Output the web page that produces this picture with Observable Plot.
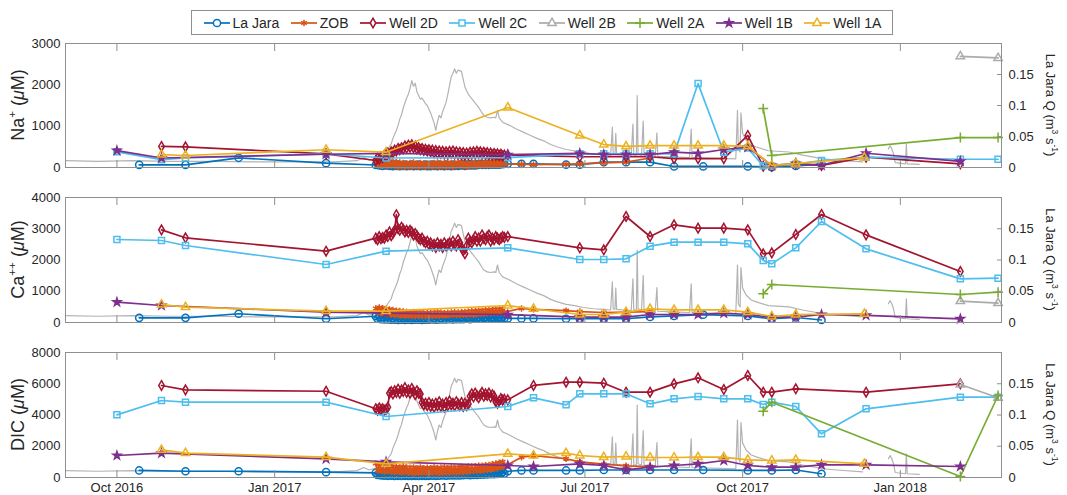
<!DOCTYPE html>
<html><head><meta charset="utf-8">
<script src="https://cdn.jsdelivr.net/npm/d3@7"></script>
<script src="https://cdn.jsdelivr.net/npm/@observablehq/plot@0.6"></script>
<style>
body{margin:0;background:#fff;font-family:"Liberation Sans",Arial,Helvetica,sans-serif;}
#wrap{position:relative;width:1067px;height:495px;overflow:hidden;background:#fff;}
.panel{position:absolute;left:0;}
#legend{position:absolute;left:191px;top:10px;width:702px;height:25px;border:1px solid #8f8f8f;background:#fff;display:flex;align-items:center;justify-content:space-evenly;font-size:14px;color:#262626;box-sizing:border-box;z-index:5;}
.item{display:flex;align-items:center;gap:2px;white-space:nowrap;}
</style></head><body><div id="wrap"><div id="legend"></div></div>
<script>
// ---------- x ticks ----------
const xTickDates = ["2016-10-01","2017-01-01","2017-04-01","2017-07-01","2017-10-01","2018-01-01"];
const qTicks = [0, 0.05, 0.1, 0.15];
const qTickLabels = ["0", "0.05", "0.1", "0.15"];

// ---------- La Jara Q (right axis, m3/s) ----------
const qDates1 = ["2016-09-01","2016-09-20","2016-10-10","2016-11-01","2016-11-25","2016-12-20","2017-01-15","2017-02-05","2017-02-18","2017-02-22","2017-02-25","2017-03-01","2017-03-04","2017-03-06","2017-03-08","2017-03-10","2017-03-11","2017-03-13","2017-03-14","2017-03-15","2017-03-16","2017-03-17","2017-03-18","2017-03-19","2017-03-20","2017-03-21","2017-03-22","2017-03-23","2017-03-24","2017-03-25","2017-03-26","2017-03-27","2017-03-28","2017-03-30","2017-03-31","2017-04-02","2017-04-03","2017-04-04","2017-04-05","2017-04-06","2017-04-07","2017-04-08","2017-04-09","2017-04-11","2017-04-12","2017-04-13","2017-04-14","2017-04-15","2017-04-16","2017-04-17","2017-04-18","2017-04-20","2017-04-21","2017-04-22","2017-04-24","2017-04-26","2017-04-28","2017-04-30","2017-05-02","2017-05-03","2017-05-05","2017-05-07","2017-05-09","2017-05-10","2017-05-11","2017-05-12","2017-05-14","2017-05-18","2017-05-22","2017-05-26","2017-05-30","2017-06-03","2017-06-07","2017-06-11","2017-06-15","2017-06-20","2017-06-25","2017-06-30","2017-07-06","2017-07-12","2017-07-16","2017-07-17","2017-07-17T12:00Z","2017-07-18T12:00Z","2017-07-19","2017-07-19T12:00Z","2017-07-24","2017-07-28","2017-07-29","2017-07-29T12:00Z","2017-07-31","2017-07-31T12:00Z","2017-08-01","2017-08-03","2017-08-04","2017-08-04T12:00Z","2017-08-11","2017-08-12","2017-08-12T12:00Z","2017-08-20","2017-08-31","2017-09-01","2017-09-01T12:00Z","2017-09-12","2017-09-27","2017-09-28","2017-09-28T12:00Z","2017-09-29T12:00Z","2017-09-30","2017-10-01","2017-10-03","2017-10-06","2017-10-09","2017-10-16","2017-10-28","2017-11-05","2017-11-17","2017-11-25","2017-12-10"];
const q1 = [0.011,0.010,0.011,0.010,0.010,0.009,0.009,0.009,0.011,0.016,0.012,0.015,0.013,0.020,0.030,0.038,0.047,0.060,0.068,0.078,0.085,0.096,0.104,0.112,0.118,0.128,0.140,0.131,0.136,0.122,0.116,0.110,0.112,0.103,0.100,0.088,0.080,0.072,0.060,0.074,0.084,0.080,0.090,0.105,0.118,0.132,0.146,0.152,0.159,0.152,0.157,0.155,0.142,0.130,0.118,0.111,0.104,0.097,0.088,0.084,0.081,0.080,0.081,0.080,0.092,0.080,0.073,0.068,0.062,0.057,0.052,0.047,0.043,0.037,0.033,0.029,0.027,0.024,0.022,0.021,0.020,0.065,0.022,0.021,0.055,0.021,0.020,0.019,0.070,0.020,0.020,0.116,0.022,0.020,0.075,0.020,0.018,0.056,0.018,0.017,0.016,0.062,0.016,0.015,0.014,0.092,0.030,0.025,0.088,0.055,0.044,0.036,0.033,0.027,0.025,0.020,0.014,0.012,0.009];
const qDates2 = ["2017-12-25","2017-12-26","2017-12-27","2017-12-28","2017-12-29","2018-01-04","2018-01-04T12:00Z","2018-01-05","2018-01-12"];
const q2 = [0.030,0.035,0.030,0.022,0.008,0.006,0.038,0.006,0.005];

// ---------- dense (daily) sampling period, spring 2017 ----------
const denseDates = [
"2017-03-01","2017-03-02","2017-03-03","2017-03-04","2017-03-05","2017-03-06","2017-03-07","2017-03-08","2017-03-09","2017-03-10",
"2017-03-11","2017-03-12","2017-03-13","2017-03-14","2017-03-15","2017-03-16","2017-03-17","2017-03-18","2017-03-19","2017-03-20",
"2017-03-21","2017-03-22","2017-03-23","2017-03-24","2017-03-25","2017-03-26","2017-03-27","2017-03-28","2017-03-29","2017-03-30","2017-03-31",
"2017-04-01","2017-04-02","2017-04-03","2017-04-04","2017-04-05","2017-04-06","2017-04-07","2017-04-08","2017-04-09","2017-04-10",
"2017-04-11","2017-04-12","2017-04-13","2017-04-14","2017-04-15","2017-04-16","2017-04-17","2017-04-18","2017-04-19","2017-04-20",
"2017-04-21","2017-04-22","2017-04-23","2017-04-24","2017-04-25","2017-04-26","2017-04-27","2017-04-28","2017-04-29","2017-04-30",
"2017-05-01","2017-05-02","2017-05-03","2017-05-04","2017-05-05","2017-05-06","2017-05-07","2017-05-08","2017-05-09","2017-05-10",
"2017-05-11","2017-05-12","2017-05-13","2017-05-14","2017-05-15"];

// ---------- La Jara ----------
const laJaraPreDates = ["2016-10-14","2016-11-10","2016-12-11","2017-01-31"];
const laJaraPostDates = ["2017-05-17","2017-05-25","2017-06-01","2017-06-20","2017-06-28","2017-07-12","2017-07-25","2017-08-08","2017-08-22","2017-09-08","2017-10-04","2017-10-18","2017-11-01","2017-11-16"];
const laJaraNaPre = [65,65,235,105];
const laJaraNaDense = [60,100,50,90,40,80,50,90,40,70, 30,80,40,70,30,60,40,70,30,60, 40,70,30,60,40,70,30,60,40,70,30, 60,30,70,40,60,30,70,40,60,30, 70,40,60,30,70,40,60,40,70,50, 80,40,70,50,80,50,70,50,80,60, 90,60,80,60,90,60,80,70,90,70, 90,70,90,80,90];
const laJaraNaPost = [90,90,90,70,70,130,130,130,25,25,25,10,40,80];
const laJaraCaPre = [150,150,280,120];
const laJaraCaDense = [200,120,190,110,180,100,170,100,160,90, 150,90,160,80,150,90,140,80,150,90, 140,80,150,90,140,90,150,80,140,90,150, 90,160,100,150,90,160,100,150,100,160, 100,170,110,160,100,170,110,180,110,170, 110,180,120,170,110,180,120,190,120,180, 120,190,130,180,120,190,130,180,130,190, 130,180,130,190,140];
const laJaraCaPost = [130,130,130,120,120,120,120,180,210,250,210,120,160,80];
const laJaraDicPre = [450,400,400,340];
const laJaraDicDense = [300,160,280,140,270,120,260,110,250,120, 240,100,230,110,240,100,230,110,220,100, 230,100,220,110,240,100,230,110,220,100,230, 110,240,120,230,110,240,120,250,130,240, 120,250,130,260,140,250,130,260,140,270, 150,270,160,280,150,290,160,300,170,290, 180,300,190,310,200,320,210,320,220,330, 230,340,240,350,250];
const laJaraDicPost = [400,450,450,450,450,480,480,480,480,480,450,450,480,240];

// ---------- ZOB ----------
const zobPostDates = ["2017-05-25","2017-06-01","2017-06-20","2017-06-28","2017-07-12","2017-07-25","2017-08-08"];
const zobNaDense = [160,60,180,40,200,50,170,30,150,40, 140,30,130,20,120,30,110,20,100,30, 110,20,120,30,100,20,110,30,100,20,90, 30,100,20,110,30,120,20,100,30,110, 20,120,30,100,20,110,30,120,40,130, 30,110,20,100,30,110,40,120,30,110, 40,120,50,130,40,120,50,140,60,130, 60,140,70,130,80];
const zobNaPost = [80,70,80,90,110,130,230];
const zobCaDense = [450,320,480,300,460,280,430,260,420,250, 400,240,380,230,370,220,350,210,340,220, 330,210,340,200,320,210,330,200,310,200,300, 210,310,200,320,220,330,210,320,220,300, 220,310,230,320,240,330,230,320,240,330, 250,340,240,350,260,360,250,370,260,380, 270,380,280,390,290,400,300,410,300,420, 310,420,320,430,330];
const zobCaPost = [450,420,380,350,320,330,350];
const zobDicDense = [900,450,850,400,800,350,780,400,750,350, 700,320,680,350,650,300,700,350,650,300, 620,280,650,300,600,280,650,320,600,300,620, 280,600,300,650,320,600,280,620,300,650, 320,600,300,650,330,620,300,650,350,680, 330,650,350,700,380,700,400,720,420,750, 430,760,450,780,480,800,500,850,550,900, 600,950,650,1000,700];
const zobDicPost = [1300,1400,1200,1000,850,750,700];

// ---------- Well 2D ----------
const w2dPreDates = ["2016-10-27","2016-11-10","2017-01-31"];
const w2dPostDates = ["2017-05-17","2017-06-01","2017-06-20","2017-06-28","2017-07-12","2017-07-25","2017-08-08","2017-08-22","2017-09-05","2017-09-20","2017-10-04","2017-10-13","2017-10-18","2017-11-01","2017-11-16","2017-12-12","2018-02-05"];
const w2dNaPre = [510,500,330];
const w2dNaDense = [170,230,200,260,240,300,280,350,320,380, 360,420,400,460,430,480,450,520,470,540, 490,550,480,520,450,480,430,460,410,440,400, 430,380,420,360,410,350,400,340,390,330, 380,330,390,340,400,330,380,320,370,310, 360,300,350,310,370,320,380,330,390,340, 380,330,370,320,360,310,350,300,340,300, 330,290,320,280,300];
const w2dNaPost = [300,null,null,260,260,260,260,215,215,215,775,30,30,95,50,250,90];
const w2dCaPre = [2965,2710,2282];
const w2dCaDense = [2700,2650,2750,2680,2720,2700,2800,2750,2900,2780, 2850,2950,3450,3000,2950,3050,2980,2900,2950,2880, 2950,2900,2800,2850,2780,2700,2650,2700,2600,2550,2600, 2500,2550,2450,2500,2400,2550,2450,2500,2400,2550, 2450,2500,2550,2450,2600,2500,2450,2650,2550,2400, 2300,2200,2450,2700,2600,2550,2650,2750,2600,2700, 2600,2800,2700,2650,2750,2800,2600,2700,2650,2750, 2700,2650,2700,2750,2720];
const w2dCaPost = [2750,null,null,2390,2326,3392,2752,3126,3019,3019,2965,2197,2229,2816,3456,2805,1632];
const w2dDicPre = [5890,5610,5520];
const w2dDicDense = [4400,4300,4450,4350,4400,4300,4350,4500,5400,5500, 5350,5550,5450,5650,5400,5600,5500,5750,5450,5600, 5400,5700,5500,5300,5550,5400,5350,4800,4650,4750,4600, 4800,4550,4700,4500,4750,4600,4850,4550,4700,4500, 4800,4600,4900,4650,4750,4600,4850,4700,4600,4800, 4550,4750,4600,4700,5200,5350,5150,5400,5250,5100, 5300,5450,5200,5350,5250,5400,5150,5300,5200,4850, 4750,4900,5050,4950,5000];
const w2dDicPost = [4970,5890,6100,6100,6037,5461,5461,5995,6379,5632,6528,5461,5461,5675,null,5461,5995];

// ---------- Well 2C ----------
const w2cDates = ["2016-10-01","2016-10-27","2016-11-10","2017-01-31","2017-03-07","2017-05-17","2017-06-01","2017-06-20","2017-06-28","2017-07-12","2017-07-25","2017-08-08","2017-08-22","2017-09-05","2017-09-20","2017-10-04","2017-10-13","2017-10-18","2017-11-01","2017-11-16","2017-12-12","2018-02-05","2018-02-27"];
const w2cNa = [380,190,230,330,230,240,null,null,330,330,330,330,330,2030,370,470,40,30,80,170,250,200,200];
const w2cCa = [2656,2624,2464,1856,2282,2390,null,null,2016,2016,2037,2443,2571,2571,2571,2517,1984,1877,2389,3232,2357,1397,1418];
const w2cDic = [4011,4928,4821,4821,3904,4544,5099,4651,5355,5355,5355,4715,5035,5184,5035,5035,4672,4821,4544,2795,4395,5141,5141];

// ---------- Well 2B ----------
const w2bDates = ["2018-02-05","2018-02-27"];
const w2bNa = [2690,2650];
const w2bCa = [682,618];
const w2bDic = [5950,5100];

// ---------- Well 2A ----------
const w2aDates = ["2017-10-13","2017-10-18","2018-02-05","2018-02-27"];
const w2aNa = [1425,290,725,725];
const w2aCa = [917,1216,896,970];
const w2aDic = [4245,4821,64,5248];

// ---------- Well 1B ----------
const w1bDates = ["2016-10-01","2016-10-27","2017-01-31","2017-03-07","2017-05-17","2017-06-01","2017-06-28","2017-07-12","2017-07-25","2017-08-08","2017-08-22","2017-09-05","2017-09-20","2017-10-04","2017-10-18","2017-11-01","2017-11-16","2017-12-12","2018-02-05"];
const w1bNa = [410,230,320,340,310,null,340,315,315,315,370,340,435,490,50,95,50,345,150];
const w1bCa = [651,544,330,300,250,null,170,170,170,256,256,256,298,256,170,170,256,230,117];
const w1bDic = [1408,1557,1195,1000,768,704,875,768,491,661,768,875,1088,768,661,661,810,810,704];

// ---------- Well 1A ----------
const w1aDates = ["2016-10-27","2016-11-10","2017-01-31","2017-03-07","2017-05-17","2017-06-01","2017-06-20","2017-06-28","2017-07-12","2017-07-25","2017-08-08","2017-08-22","2017-09-05","2017-09-20","2017-10-04","2017-10-18","2017-11-01","2017-12-11"];
const w1aNa = [310,290,430,370,1450,null,null,775,555,510,530,530,530,530,510,50,95,240];
const w1aCa = [576,491,363,363,544,440,null,256,256,331,437,405,405,405,331,192,256,277];
const w1aDic = [1771,1557,1301,875,1515,1408,1557,1408,1301,1344,1280,1280,1301,1301,1131,1088,1131,875];

// ---------- build ----------
function mk(dates, vals) {
  const out = [];
  dates.forEach((d, i) => { if (vals[i] != null) out.push({date: new Date(d), v: vals[i]}); });
  return out;
}
const series = [
  {name:"La Jara", color:"#0072BD", symbol:"circle", d3s:d3.symbolCircle, r:3.6, fill:"none",
   dates:[...laJaraPreDates, ...denseDates, ...laJaraPostDates],
   na:[...laJaraNaPre, ...laJaraNaDense, ...laJaraNaPost], ca:[...laJaraCaPre, ...laJaraCaDense, ...laJaraCaPost], dic:[...laJaraDicPre, ...laJaraDicDense, ...laJaraDicPost]},
  {name:"ZOB", color:"#D95319", symbol:"asterisk", d3s:d3.symbolAsterisk, r:3.0, fill:"none",
   dates:[...denseDates, ...zobPostDates],
   na:[...zobNaDense, ...zobNaPost], ca:[...zobCaDense, ...zobCaPost], dic:[...zobDicDense, ...zobDicPost]},
  {name:"Well 2D", color:"#A2142F", symbol:"diamond", d3s:d3.symbolDiamond, r:2.9, fill:"none",
   dates:[...w2dPreDates, ...denseDates, ...w2dPostDates],
   na:[...w2dNaPre, ...w2dNaDense, ...w2dNaPost], ca:[...w2dCaPre, ...w2dCaDense, ...w2dCaPost], dic:[...w2dDicPre, ...w2dDicDense, ...w2dDicPost]},
  {name:"Well 2C", color:"#4DBEEE", symbol:"square", d3s:d3.symbolSquare, r:3.4, fill:"none", dates:w2cDates, na:w2cNa, ca:w2cCa, dic:w2cDic},
  {name:"Well 2B", color:"#ababab", symbol:"triangle", d3s:d3.symbolTriangle, r:3.1, fill:"none", dates:w2bDates, na:w2bNa, ca:w2bCa, dic:w2bDic},
  {name:"Well 2A", color:"#77AC30", symbol:"plus", d3s:d3.symbolPlus, r:3.3, fill:"none", dates:w2aDates, na:w2aNa, ca:w2aCa, dic:w2aDic},
  {name:"Well 1B", color:"#7E2F8E", symbol:"star", d3s:d3.symbolStar, r:2.5, fill:"#7E2F8E", dates:w1bDates, na:w1bNa, ca:w1bCa, dic:w1bDic},
  {name:"Well 1A", color:"#EDB120", symbol:"triangle", d3s:d3.symbolTriangle, r:3.1, fill:"none", dates:w1aDates, na:w1aNa, ca:w1aCa, dic:w1aDic}
];
const qMain = qDates1.map((d, i) => ({date: new Date(d), q: q1[i]}));
const qWinter = qDates2.map((d, i) => ({date: new Date(d), q: q2[i]}));

const W = 1067, ML = 65, MR = 66;
const frameColor = "#8f8f8f", textColor = "#262626";
const panels = [
  {top:0, height:175, mt:43, mb:8, ymax:3000, yTicks:[0,1000,2000,3000], field:"na", xLabels:false,
   label:[{t:"Na"},{t:"+",sup:true},{t:" ("},{t:"μ",it:true},{t:"M)"}]},
  {top:175, height:155, mt:22, mb:8, ymax:4000, yTicks:[0,1000,2000,3000,4000], field:"ca", xLabels:false,
   label:[{t:"Ca"},{t:"++",sup:true},{t:" ("},{t:"μ",it:true},{t:"M)"}]},
  {top:330, height:165, mt:22, mb:18, ymax:8000, yTicks:[0,2000,4000,6000,8000], field:"dic", xLabels:true,
   label:[{t:"DIC ("},{t:"μ",it:true},{t:"M)"}]}
];
const rightLabel = [{t:"La Jara Q (m"},{t:"3",sup:true},{t:" s"},{t:"-1",sup:true},{t:")"}];

function addLabel(svg, x, y, rot, parts, size) {
  const t = svg.append("text")
    .attr("transform", `translate(${x},${y}) rotate(${rot})`)
    .attr("text-anchor", "middle").attr("dominant-baseline", "middle")
    .attr("font-size", size).attr("fill", textColor)
    .attr("font-family", '"Liberation Sans",Arial,Helvetica,sans-serif');
  parts.forEach(p => {
    const s = t.append("tspan").text(p.t);
    if (p.sup) s.attr("baseline-shift", "super").attr("font-size", size * 0.65);
    if (p.it) s.attr("font-style", "italic");
  });
}

const xTicks = xTickDates.map(d => new Date(d));
const wrap = document.getElementById("wrap");

panels.forEach(P => {
  const k = P.ymax / 0.2;
  const marks = [];
  marks.push(Plot.line(qMain, {x:"date", y:d => d.q * k, stroke:"#b3b3b3", strokeWidth:1.2}));
  marks.push(Plot.line(qWinter, {x:"date", y:d => d.q * k, stroke:"#b3b3b3", strokeWidth:1.2}));
  series.forEach(s => {
    const data = mk(s.dates, s[P.field]);
    marks.push(Plot.line(data, {x:"date", y:"v", stroke:s.color, strokeWidth:1.7}));
    marks.push(Plot.dot(data, {x:"date", y:"v", symbol:s.symbol, r:s.r, stroke:s.color, fill:s.fill, strokeWidth:1.5}));
  });
  marks.push(Plot.frame({stroke:frameColor}));
  marks.push(Plot.axisX({anchor:"bottom", ticks:xTicks, tickSize:-7, tickFormat:() => "", stroke:frameColor, label:null}));
  marks.push(Plot.axisX({anchor:"top", ticks:xTicks, tickSize:-7, tickFormat:() => "", stroke:frameColor, label:null}));
  if (P.xLabels) marks.push(Plot.axisX({anchor:"bottom", ticks:xTicks, tickSize:0, tickPadding:5, tickFormat:d3.utcFormat("%b %Y"), label:null}));
  marks.push(Plot.axisY({anchor:"left", ticks:P.yTicks, tickSize:0, tickPadding:5, label:null, tickFormat:d => String(d)}));
  marks.push(Plot.axisY({anchor:"right", ticks:qTicks.map(q => q * k), tickSize:-5, tickFormat:() => "", stroke:frameColor, label:null}));
  marks.push(Plot.axisY({anchor:"right", ticks:qTicks.map(q => q * k), tickSize:0, tickPadding:7, label:null,
    tickFormat:d => qTickLabels[Math.round(d / k / 0.05)]}));

  const svgEl = Plot.plot({
    width:W, height:P.height, marginLeft:ML, marginRight:MR, marginTop:P.mt, marginBottom:P.mb,
    x:{type:"utc", domain:[new Date("2016-09-01"), new Date("2018-03-01")]},
    y:{domain:[0, P.ymax]},
    style:{fontFamily:'"Liberation Sans",Arial,Helvetica,sans-serif', fontSize:"13px", color:textColor, background:"transparent", overflow:"visible"},
    marks
  });
  svgEl.classList.add("panel");
  svgEl.style.top = P.top + "px";
  wrap.appendChild(svgEl);
  const svg = d3.select(svgEl);
  const cy = P.mt + (P.height - P.mt - P.mb) / 2;
  addLabel(svg, 19, cy, -90, P.label, 18);
  addLabel(svg, 1049, cy, 90, rightLabel, 13);
});

// ---------- legend ----------
const legend = d3.select("#legend");
series.forEach(s => {
  const it = legend.append("div").attr("class", "item");
  const sv = it.append("svg").attr("width", 28).attr("height", 14);
  sv.append("line").attr("x1", 1).attr("x2", 27).attr("y1", 7).attr("y2", 7).attr("stroke", s.color).attr("stroke-width", 1.7);
  sv.append("path").attr("d", d3.symbol(s.d3s, Math.PI * s.r * s.r)()).attr("transform", "translate(14,7)")
    .attr("fill", s.fill === "none" ? "white" : s.fill).attr("stroke", s.color).attr("stroke-width", 1.5);
  it.append("span").text(s.name);
});
</script></body></html>
